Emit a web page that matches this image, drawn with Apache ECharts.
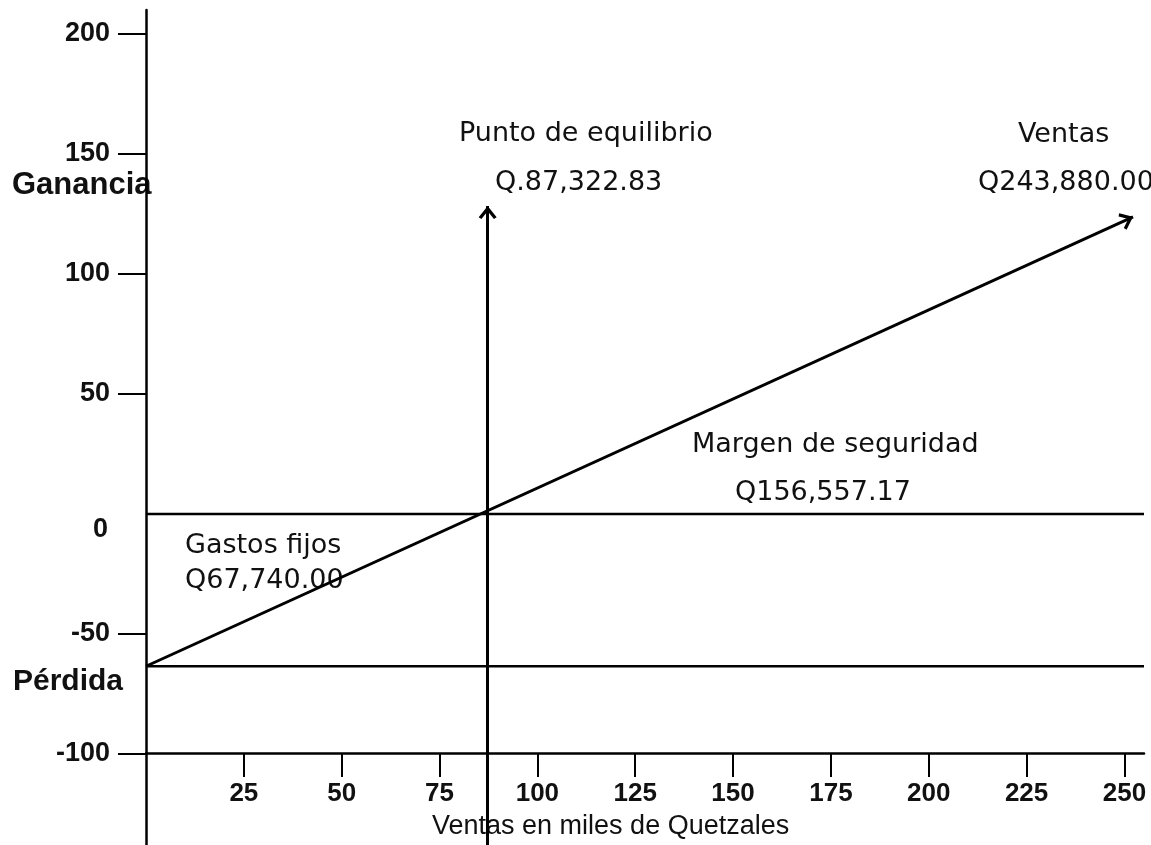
<!DOCTYPE html>
<html>
<head>
<meta charset="utf-8">
<script src="https://cdn.jsdelivr.net/npm/echarts@6.0.0/dist/echarts.min.js"></script>
<style>
  html, body { margin: 0; padding: 0; background: #fff; }
  #chart { width: 1151px; height: 845px; }
</style>
</head>
<body>
<div id="chart"></div>
<script>
// eje x: ventas en miles de quetzales, eje y: ganancia / pérdida
const xTickValues = [25, 50, 75, 100, 125, 150, 175, 200, 225, 250];
const yLabelValues = [-100, -50, 0, 50, 100, 150, 200];
const yTickValues = [-100, -50, 50, 100, 150, 200];

// lineas tal como aparecen en el dibujo
const zeroLine = [[0, 0], [255, 0]];
const fixedCostLine = [[0, -63.5], [255, -63.5]];
const salesLine = [[0, -63.5], [252.2, 123.8]];
const breakEvenLine = [[87.3, -138], [87.3, 128.3]];

// textos
const notes = [
  ['Punto de equilibrio', 459, 133.5],
  ['Q.87,322.83', 495, 182.5],
  ['Ventas', 1018, 135],
  ['Q243,880.00', 978, 182.5],
  ['Margen de seguridad', 692, 445],
  ['Q156,557.17', 735, 492.5],
  ['Gastos fijos', 185, 546],
  ['Q67,740.00', 185, 581]
];

const chart = echarts.init(document.getElementById('chart'), null, { renderer: 'canvas' });

// flecha abierta, con la punta en el centro del simbolo
const arrowPath = 'path://M8,-12.76L8,-12.76M8,0L16,11L13.57,12.76L8,5.1L2.43,12.76L0,11Z';

function arrowLine(pts) {
  return [
    { coord: pts[0], symbol: 'none' },
    { coord: pts[1], symbol: arrowPath, symbolSize: [18, 26] }
  ];
}

const noteFont = '27px "DejaVu Sans"';

const option = {
  animation: false,
  backgroundColor: '#fff',
  grid: { left: 146, top: 10, right: 7, bottom: 0, containLabel: false, outerBoundsMode: 'none' },
  xAxis: {
    type: 'value',
    min: 0,
    max: 255,
    offset: -92,
    splitLine: { show: false },
    axisLine: { show: true, onZero: false, lineStyle: { color: '#000', width: 2.5 } },
    axisTick: { show: true, customValues: xTickValues, length: 24, lineStyle: { color: '#000', width: 2 } },
    axisLabel: {
      customValues: xTickValues,
      margin: 28,
      color: '#111',
      fontFamily: '"Liberation Sans Narrow", "Liberation Sans", Arial',
      fontWeight: 'bold',
      fontSize: 26
    }
  },
  yAxis: {
    type: 'value',
    min: -138,
    max: 210,
    splitLine: { show: false },
    axisLine: { show: true, onZero: false, lineStyle: { color: '#000', width: 2.5 } },
    axisTick: { show: true, customValues: yTickValues, length: 28, lineStyle: { color: '#000', width: 2 } },
    axisLabel: {
      customValues: yLabelValues,
      margin: 36,
      color: '#111',
      fontFamily: '"Liberation Sans", Arial',
      fontWeight: 'bold',
      fontSize: 27,
      formatter: function (v) { return v === 0 ? '{z|0}' : String(v); },
      rich: {
        z: {
          fontFamily: '"Liberation Sans", Arial',
          fontWeight: 'bold',
          fontSize: 27,
          color: '#111',
          padding: [32, 2, 0, 0]
        }
      }
    }
  },
  series: [
    {
      type: 'line',
      data: zeroLine,
      symbol: 'none',
      silent: true,
      lineStyle: { color: '#000', width: 2.5 },
      markLine: {
        silent: true,
        label: { show: false },
        emphasis: { disabled: true },
        lineStyle: { color: '#000', width: 3, type: 'solid' },
        data: [arrowLine(salesLine), arrowLine(breakEvenLine)]
      }
    },
    {
      type: 'line',
      data: fixedCostLine,
      symbol: 'none',
      silent: true,
      lineStyle: { color: '#000', width: 2.5 }
    }
  ],
  graphic: notes.map(function (n) {
    return {
      type: 'text', x: n[1], y: n[2], silent: true,
      style: { text: n[0], font: noteFont, fill: '#111', verticalAlign: 'middle' }
    };
  }).concat([
    {
      type: 'text', x: 12, y: 185, silent: true,
      style: { text: 'Ganancia', font: 'bold 31px "Liberation Sans"', fill: '#111', verticalAlign: 'middle' }
    },
    {
      type: 'text', x: 13, y: 682, silent: true,
      style: { text: 'Pérdida', font: 'bold 30px "Liberation Sans"', fill: '#111', verticalAlign: 'middle' }
    },
    {
      type: 'text', x: 432, y: 827, silent: true,
      style: { text: 'Ventas en miles de Quetzales', font: '27px "Liberation Sans"', fill: '#111', verticalAlign: 'middle' }
    }
  ])
};

chart.setOption(option);
</script>
</body>
</html>
